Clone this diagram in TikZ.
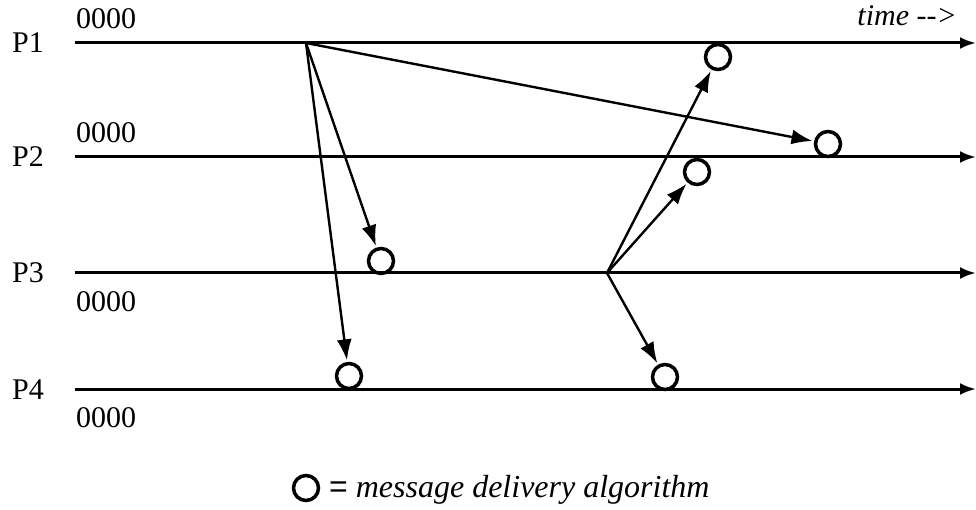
\documentclass[tikz,border=0pt]{standalone}
\usepackage{fontspec}
\setmainfont{Liberation Serif}
\newfontfamily\eqfont{Liberation Sans}
\usetikzlibrary{arrows.meta}
\begin{document}
\begin{tikzpicture}[x=1pt,y=-1pt,
  tl/.style={line width=3pt,-{Latex[length=16pt,width=12pt]}},
  msg/.style={line width=2.4pt,-{Latex[length=21pt,width=15pt]},shorten >=1.5pt},
  dlv/.style={circle,draw,line width=3.5pt,minimum size=25pt,inner sep=0pt},
  lbl/.style={font=\fontsize{30}{31}\selectfont,inner sep=0pt,anchor=base west}]
\useasboundingbox (0,0) rectangle (976,510);
% process lines
\coordinate (s1) at (75,43);  \coordinate (e1) at (976,43);
\coordinate (s2) at (75,157); \coordinate (e2) at (976,157);
\coordinate (s3) at (75,273); \coordinate (e3) at (976,273);
\coordinate (s4) at (75,389); \coordinate (e4) at (976,389);
\foreach \i in {1,2,3,4} {\draw[tl] (s\i) -- (e\i);}
% labels
\node[lbl] (p1) at (12,53) {P1};
\node[lbl] (p2) at (12,167) {P2};
\node[lbl] (p3) at (12,283) {P3};
\node[lbl] (p4) at (12,399) {P4};
\node[lbl] (v1) at (76,29) {0000};
\node[lbl] (v2) at (76,143) {0000};
\node[lbl] (v3) at (76,311) {0000};
\node[lbl] (v4) at (76,427) {0000};
\node[lbl,anchor=base east] (time) at (957,26) {\itshape time -{}->};
% delivery circles
\node[dlv] (c1) at (718,57) {};
\node[dlv] (c2) at (828,144) {};
\node[dlv] (c2b) at (697,172) {};
\node[dlv] (c3) at (381,261) {};
\node[dlv] (c4) at (349,376) {};
\node[dlv] (c4b) at (665,377) {};
% send events
\coordinate (a) at (306,43);
\coordinate (b) at (607,273);
\draw[msg] (a) -- (c2);
\draw[msg] (a) -- (c3);
\draw[msg] (a) -- (c4);
\draw[msg] (b) -- (c1);
\draw[msg] (b) -- (c2b);
\draw[msg] (b) -- (c4b);
% legend
\node[dlv] (lc) at (306,488) {};
\node[lbl,font=\fontsize{32}{33}\selectfont] (leg) at (329,497) {{\eqfont =} \itshape message delivery algorithm};
\end{tikzpicture}
\end{document}
